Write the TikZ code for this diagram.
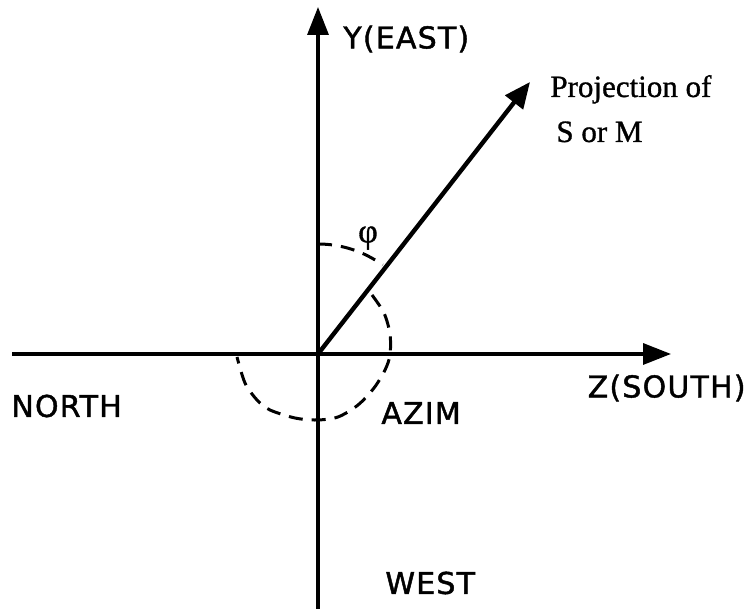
\documentclass[tikz,border=0pt]{standalone}
\usepackage{fontspec}
\setmainfont{Liberation Serif}
\newfontfamily\plotfont[LetterSpace=4, FakeBold=1.5]{DejaVu Sans}
\newfontfamily\labelserif[FakeBold=1]{Liberation Serif}
\usetikzlibrary{arrows.meta}

\begin{document}
\begin{tikzpicture}[x=0.5pt, y=0.5pt,
  axisline/.style={line width=1.7pt, -{Triangle[length=14pt, width=10.5pt]}},
  anglearc/.style={line width=1.5pt, dash pattern=on 7pt off 4.5pt},
  plotlabel/.style={font=\fontsize{15}{17}\selectfont\plotfont, inner sep=0pt},
  seriflabel/.style={font=\fontsize{15.5}{18}\selectfont\labelserif, inner sep=0pt}]

  \useasboundingbox (0,0) rectangle (750,609);

  %% Axes
  \coordinate (O) at (318,255);
  \coordinate (ybot) at (318,0);
  \coordinate (ytop) at (318,602);
  \coordinate (xleft) at (12,255);
  \coordinate (xright) at (671,255);
  \coordinate (tip) at (530,527);
  \draw[axisline] (ybot) -- (ytop);
  \draw[axisline] (xleft) -- (xright);

  %% Projection vector
  \draw[line width=2.2pt, -{Triangle[length=13pt, width=11pt]}] (O) -- (tip);

  %% Angle arcs (phi and AZIM)
  \draw[anglearc] (O) ++(90:110) arc[start angle=90, end angle=54, radius=110];
  \draw[anglearc] plot[smooth] coordinates {(372,314) (384,296) (390,275)
    (390,254) (385,239) (374,221) (358,204) (338,192) (317,189) (295,191)
    (270,199) (257,209) (245,226) (237,252)};

  %% Labels
  \node[plotlabel, anchor=west] (east) at (343,570) {Y(EAST)};
  \node[plotlabel, anchor=east] (south) at (746,221) {Z(SOUTH)};
  \node[plotlabel, anchor=west] (north) at (11,203) {NORTH};
  \node[plotlabel, anchor=west] (west) at (385,26) {WEST};
  \node[plotlabel, anchor=west] (azim) at (381,196) {AZIM};
  \node[seriflabel, anchor=base west] (proj) at (550,512) {Projection of};
  \node[seriflabel, anchor=base west] (som) at (556,467) {S or M};
  \node[seriflabel, font=\fontsize{17}{18}\selectfont\labelserif] (phi) at (368,371) {φ};

\end{tikzpicture}
\end{document}
